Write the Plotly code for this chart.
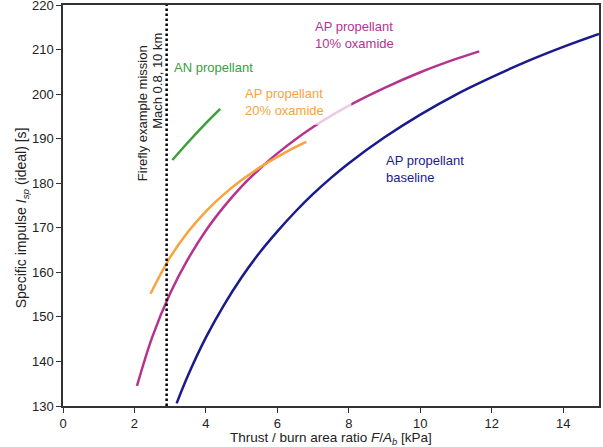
import plotly.graph_objects as go

# ---- data ----
base_x = [3.18, 3.5, 4.0, 4.5, 5.0, 5.5, 6.0, 6.5, 7.0, 7.5, 8.0, 9.0, 10.0, 11.0, 12.0, 13.0, 14.0, 15.0]
base_y = [130.6, 136.9, 145.4, 152.6, 158.9, 164.4, 169.2, 173.6, 177.6, 181.2, 184.5, 190.3, 195.4, 199.9, 203.8, 207.4, 210.6, 213.5]

ox10_x = [2.07, 2.5, 3.0, 3.5, 4.0, 4.5, 5.0, 5.5, 6.0, 7.0, 8.0, 9.0, 10.0, 11.0, 11.65]
ox10_y = [134.5, 145.5, 155.3, 163.0, 169.4, 174.7, 179.3, 183.2, 186.7, 192.6, 197.4, 201.4, 204.9, 207.9, 209.6]

ox20_x = [2.45, 3.0, 3.5, 4.0, 4.5, 5.0, 5.5, 6.0, 6.5, 6.81]
ox20_y = [155.2, 163.4, 169.1, 173.7, 177.5, 180.7, 183.5, 185.9, 188.1, 189.3]

an_x = [3.06, 3.5, 4.0, 4.4]
an_y = [185.2, 189.2, 193.5, 196.7]

mission_x = 2.9

x_ticks = [0, 2, 4, 6, 8, 10, 12, 14]
y_ticks = [130, 140, 150, 160, 170, 180, 190, 200, 210, 220]

NAVY = "#1a1a8c"
MAG = "#b5338f"
ORA = "#f8a33d"
GRN = "#3aa03a"
FONT = "Liberation Sans"

fig = go.Figure()
for xs, ys, c in [(base_x, base_y, NAVY), (ox10_x, ox10_y, MAG), (ox20_x, ox20_y, ORA), (an_x, an_y, GRN)]:
    fig.add_trace(go.Scatter(x=xs, y=ys, mode="lines",
                             line=dict(color=c, width=2.5, shape="spline", smoothing=1.0),
                             showlegend=False, hoverinfo="skip"))

# mission line
fig.add_shape(type="line", x0=mission_x, x1=mission_x, yref="paper", y0=0, y1=1,
              line=dict(color="black", width=2.5, dash="2.5px,2.5px"))

# semi-transparent label background for the 20% oxamide label
fig.add_shape(type="rect", x0=5.0, x1=8.07, y0=193.1, y1=203.5, layer="above",
              line=dict(width=0), fillcolor="rgba(255,255,255,0.75)")

def label(x, y, text, color):
    fig.add_annotation(x=x, y=y, text=text, showarrow=False, xanchor="left", yanchor="middle",
                       align="left", font=dict(family=FONT, size=13, color=color))

label(3.04, 205.9, "AN propellant", GRN)
label(5.03, 198.2, "AP propellant<br>20% oxamide", ORA)
label(7.01, 213.2, "AP propellant<br>10% oxamide", MAG)
label(8.99, 183.1, "AP propellant<br>baseline", NAVY)

fig.add_annotation(x=2.23, y=195.65, text="Firefly example mission", showarrow=False, textangle=-90,
                   xanchor="center", yanchor="middle", font=dict(family=FONT, size=13, color="#222"))
fig.add_annotation(x=2.64, y=203.06, text="Mach 0.8, 10 km", showarrow=False, textangle=-90,
                   xanchor="center", yanchor="middle", font=dict(family=FONT, size=13, color="#222"))

# axis titles
fig.add_annotation(xref="paper", yref="paper", x=0.5, y=-0.081, yanchor="middle", xanchor="center",
                   text="Thrust / burn area ratio <i>F</i>/<i>A<sub>b</sub></i> [kPa]", showarrow=False,
                   borderpad=0, font=dict(family=FONT, size=13.5, color="#222"))
fig.add_annotation(xref="paper", yref="paper", x=-0.077, y=0.47, xanchor="center", yanchor="middle",
                   textangle=-90, text="Specific impulse <i>I<sub>sp</sub></i> (ideal) [s]", showarrow=False,
                   font=dict(family=FONT, size=14, color="#222"))

axis_common = dict(showgrid=False, zeroline=False, showline=True, linecolor="#333", linewidth=1.5,
                   mirror=True, ticks="outside", ticklen=5, tickwidth=1.2, tickcolor="#333",
                   ticklabeloverflow="allow", automargin=False,
                   tickfont=dict(family=FONT, size=13, color="#222"))
fig.update_xaxes(range=[0, 15], tickvals=x_ticks, ticktext=[str(v) for v in x_ticks], **axis_common)
fig.update_yaxes(range=[130, 220], tickvals=y_ticks, ticktext=[str(v) for v in y_ticks], **axis_common)

fig.update_layout(width=603, height=447, margin=dict(l=63, r=4, t=5, b=41),
                  plot_bgcolor="white", paper_bgcolor="white")
fig.write_html("out.html")
